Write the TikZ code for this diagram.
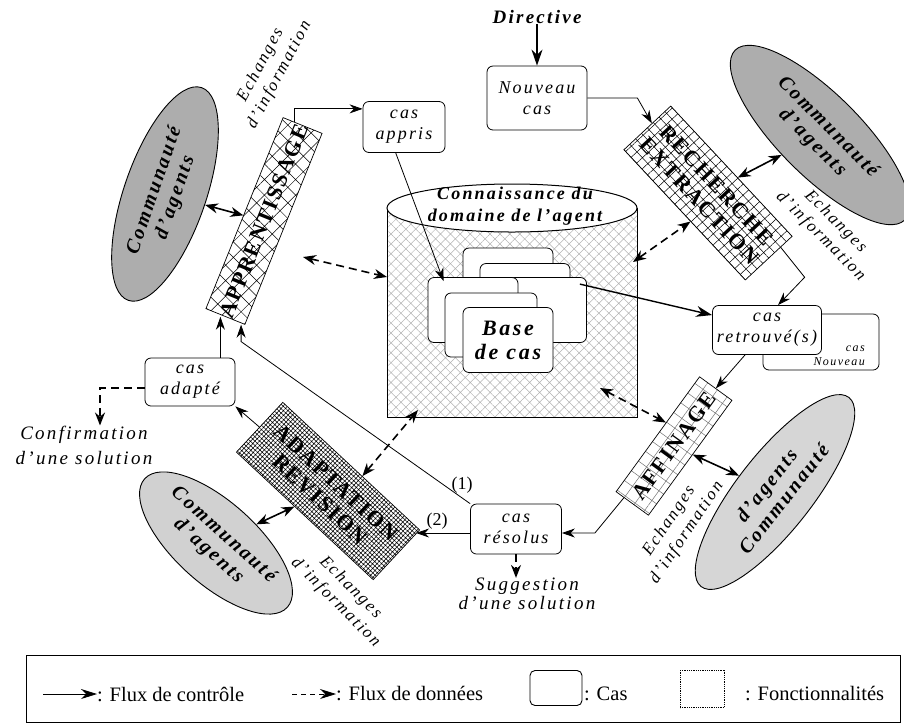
\documentclass[tikz,border=0pt]{standalone}
\usepackage{fontspec}
\setmainfont{Liberation Serif}
\newfontfamily\espcas[LetterSpace=12]{Liberation Serif}
\newfontfamily\espfonc[LetterSpace=8]{Liberation Serif}
\newfontfamily\legfont{Liberation Serif}
\usepackage{tikz}
\usetikzlibrary{arrows.meta,positioning,calc,shapes.geometric,patterns.meta}

\tikzset{
  cas/.style={draw, line width=0.8pt, rounded corners=6pt, fill=white, inner sep=0pt, align=center,
    font=\espcas\itshape\fontsize{18}{21}\selectfont},
  fonc/.style={draw, line width=0.7pt, inner sep=0pt, align=center,
    font=\espfonc\bfseries\fontsize{22}{23}\selectfont},
  commu/.style={ellipse, draw, line width=0.9pt, inner sep=0pt, align=center,
    font=\espcas\bfseries\itshape\fontsize{20}{22}\selectfont},
  echange/.style={align=center, inner sep=0pt, font=\espcas\itshape\fontsize{17}{21}\selectfont},
  sortie/.style={align=center, inner sep=0pt, font=\espcas\itshape\fontsize{19}{25}\selectfont},
  carte/.style={draw, line width=0.8pt, rounded corners=6pt, fill=white, inner sep=0pt},
  legende/.style={inner sep=0pt, font=\legfont\fontsize{20.5}{24}\selectfont},
  ctrl/.style={-{Stealth[length=13pt,width=9pt]}, line width=0.8pt},
  ctrlfort/.style={-{Stealth[length=16pt,width=11pt]}, line width=1.8pt},
  donnee/.style={-{Stealth[length=13pt,width=10pt]}, line width=1.6pt, dash pattern=on 8pt off 5pt},
  donnees/.style={{Stealth[length=13pt,width=10pt]}-{Stealth[length=13pt,width=10pt]}, line width=1.6pt, dash pattern=on 8pt off 5pt},
  echg/.style={{Stealth[length=13pt,width=10pt]}-{Stealth[length=13pt,width=10pt]}, line width=1.6pt},
}

\begin{document}
\begin{tikzpicture}[x=1pt,y=-1pt]
  \useasboundingbox (0,0) rectangle (904,724);

  % base de connaissances (cylindre)
  \fill[pattern={Hatch[angle=45,distance=7pt,line width=0.5pt]}, pattern color=black!30] (387,208) rectangle (637,417);
  \draw[line width=1pt] (387,208) -- (387,417) -- (637,417) -- (637,208);
  \draw[line width=1pt, fill=white] (512,208) ellipse [x radius=125pt, y radius=24pt];
  \node[inner sep=0pt, align=center, font=\espcas\bfseries\itshape\fontsize{18}{22}\selectfont] (connais) at (515,206) {Connaissance du\\domaine de l’agent};

  % cartes de la base de cas
  \node[carte, minimum width=90pt, minimum height=52pt] (carteA) at (508,274) {};
  \node[carte, minimum width=90pt, minimum height=47pt] (carteB) at (525,287) {};
  \node[carte, minimum width=117pt, minimum height=65pt] (carteC) at (528,310) {};
  \node[carte, minimum width=90pt, minimum height=65pt] (carteD) at (473,310) {};
  \node[carte, minimum width=92pt, minimum height=64pt] (carteE) at (491,325) {};
  \node[carte, minimum width=90pt, minimum height=65pt, align=center,
    font=\espcas\bfseries\itshape\fontsize{22}{24}\selectfont] (carteF) at (508,340) {Base\\de cas};

  % cas
  \node[inner sep=0pt, font=\espcas\bfseries\itshape\fontsize{19}{22}\selectfont] (directive) at (537,17) {Directive};
  \node[cas, minimum width=100pt, minimum height=64pt] (nouv) at (537,98) {Nouveau\\cas};
  \node[cas, minimum width=82pt, minimum height=51pt] (appris) at (404,127) {cas\\appris};
  \node[cas, minimum width=116pt, minimum height=56pt] (nouvB) at (821,342) {};
  \node[inner sep=0pt, align=right, anchor=south east, font=\espcas\itshape\fontsize{12}{14}\selectfont] (nouvBtxt) at (865,366) {cas\\Nouveau};
  \node[cas, minimum width=109pt, minimum height=49pt] (retr) at (767,330) {cas\\retrouvé(s)};
  \node[cas, minimum width=90pt, minimum height=48pt] (adapte) at (190,382) {cas\\adapté};
  \node[cas, minimum width=91pt, minimum height=50pt] (resolus) at (516,529) {cas\\résolus};

  % fonctionnalites
  \node[fonc, rotate=-47, minimum width=178pt, minimum height=64pt,
    pattern={Hatch[angle=-47,distance=8pt,line width=0.5pt]}] (rech) at (708,193) {RECHERCHE\\EXTRACTION};
  \node[fonc, rotate=68, minimum width=206pt, minimum height=42pt,
    pattern={Hatch[angle=45,distance=11pt,line width=0.5pt]}] (appr) at (264,221) {APPRENTISSAGE};
  \node[fonc, rotate=-43, minimum width=187pt, minimum height=68pt,
    pattern={Hatch[angle=-43,distance=3.2pt,line width=0.55pt]}] (adapt) at (328,491) {ADAPTATION\\REVISION};
  \node[fonc, rotate=54, minimum width=142pt, minimum height=40pt,
    pattern={Hatch[angle=54,distance=12pt,line width=0.5pt]}, pattern color=black!55] (affin) at (674,446) {AFFINAGE};

  % communautes d'agents
  \node[commu, rotate=71, minimum width=225pt, minimum height=82pt, fill=black!32] (commHG) at (165,194) {Communauté\\d’agents};
  \node[commu, rotate=-45, minimum width=240pt, minimum height=82pt, fill=black!32] (commHD) at (820,135) {Communauté\\d’agents};
  \node[commu, rotate=-42, minimum width=192pt, minimum height=82pt, fill=black!18] (commBG) at (216,543) {Communauté\\d’agents};
  \node[commu, rotate=52, minimum width=240pt, minimum height=76pt, fill=black!16] (commBD) at (775,492) {d’agents\\Communauté};

  % echanges d'information
  \node[echange, rotate=62] (echHG) at (270,70) {Echanges\\d’information};
  \node[echange, rotate=-45] (echHD) at (828,229) {Echanges\\d’information};
  \node[echange, rotate=-45] (echBG) at (343,595) {Echanges\\d’information};
  \node[echange, rotate=56] (echBD) at (678,527) {Echanges\\d’information};

  % sorties
  \node[sortie] (conf) at (84,445) {Confirmation\\d’une solution};
  \node[sortie, font=\espcas\itshape\fontsize{19}{19}\selectfont] (sugg) at (527,594) {Suggestion\\d’une solution};
  \node[inner sep=0pt, font=\legfont\fontsize{18}{20}\selectfont] (lab1) at (462,485) {(1)};
  \node[inner sep=0pt, font=\legfont\fontsize{18}{20}\selectfont] (lab2) at (437,521) {(2)};

  % points libres
  \coordinate (kbHD) at (633,262);
  \coordinate (kbG) at (387,277);
  \coordinate (apprD) at (303,257);
  \coordinate (kbBG) at (418,410);
  \coordinate (kbBD) at (600,388);
  \coordinate (adH) at ($(adapte.north east)+(-15,0)$);
  \coordinate (coude) at ($(resolus.north west)+(-229,-162)$);

  % flux de controle
  \draw[ctrlfort] (directive) -- (nouv);
  \draw[ctrl] (nouv.east) -- ++(50,0) -- ($(rech.north west)!0.4!(rech.south west)$);
  \draw[ctrl] ($(rech.east)!0.5!(rech.north east)$) -- ++(24,30) -- ($(retr.north west)!0.6!(retr.north east)$);
  \draw[ctrlfort, line width=1.4pt] ($(carteC.north east)+(-7,7)$) -- ($(retr.north west)!0.2!(retr.south west)$);
  \draw[ctrl] ($(appris.south west)!0.4!(appris.south east)$) -- ($(carteD.north west)+(16,4)$);
  \draw[ctrl] ($(appr.north east)!0.6!(appr.east)$) |- ($(appris.north west)!0.15!(appris.south west)$);
  \draw[ctrl] (adH) -- (adH |- appr.west);
  \draw[ctrl] (resolus.north west) -- (coude) -- (coude |- appr.south west);
  \draw[ctrl] (adapt.west) -- (adapte.south east);
  \draw[ctrl] ($(resolus.west)+(0,4)$) -- ++(-54,0);
  \draw[ctrl] ($(affin.west)!0.5!(affin.north west)$) -- ($(resolus.east)+(33,4)$) -- ($(resolus.east)+(0,4)$);
  \draw[ctrl] ($(retr.south west)!0.3!(retr.south east)$) -- (affin.east);

  % echanges avec les communautes
  \draw[echg] (rech) -- (commHD);
  \draw[echg] (commHG) -- (appr);
  \draw[echg] (commBG) -- (adapt);
  \draw[echg] (affin) -- (commBD);

  % flux de donnees
  \draw[donnees] (kbHD) -- ($(rech.south west)!0.55!(rech.south east)$);
  \draw[donnees] (apprD) -- (kbG);
  \draw[donnees] ($(adapt.north west)!0.58!(adapt.north east)$) -- (kbBG);
  \draw[donnees] (kbBD) -- ($(affin.north west)!0.6!(affin.north east)$);
  \draw[donnee] (resolus.south) -- (resolus.south |- sugg.north);
  \draw[donnee] ($(adapte.west)+(0,6)$) -| ($(conf.north)+(16,0)$);

  % legende
  \draw[line width=0.8pt] (26,655) rectangle (900,722);
  \node[legende, anchor=west] (lgCtrl) at (97,694) {: Flux de contrôle};
  \node[legende, anchor=west] (lgDon) at (336,694) {: Flux de données};
  \node[draw, rounded corners=5pt, line width=0.9pt, minimum width=52pt, minimum height=35pt] (lgCas) at (556,688) {};
  \node[legende, anchor=west] (lgCasT) at (584,694) {: Cas};
  \node[draw, densely dotted, line width=0.8pt, minimum width=44pt, minimum height=37pt] (lgFonc) at (702,689) {};
  \node[legende, anchor=west] (lgFoncT) at (745,694) {: Fonctionnalités};
  \coordinate (lgCtrlA) at (43,694);
  \coordinate (lgDonA) at (292,694);
  \draw[-{Stealth[length=16pt,width=10pt]}, line width=0.8pt] (lgCtrlA) -- (lgCtrl.west);
  \draw[-{Stealth[length=16pt,width=10pt]}, line width=0.8pt, dash pattern=on 5pt off 4pt] (lgDonA) -- (lgDon.west);
\end{tikzpicture}
\end{document}
